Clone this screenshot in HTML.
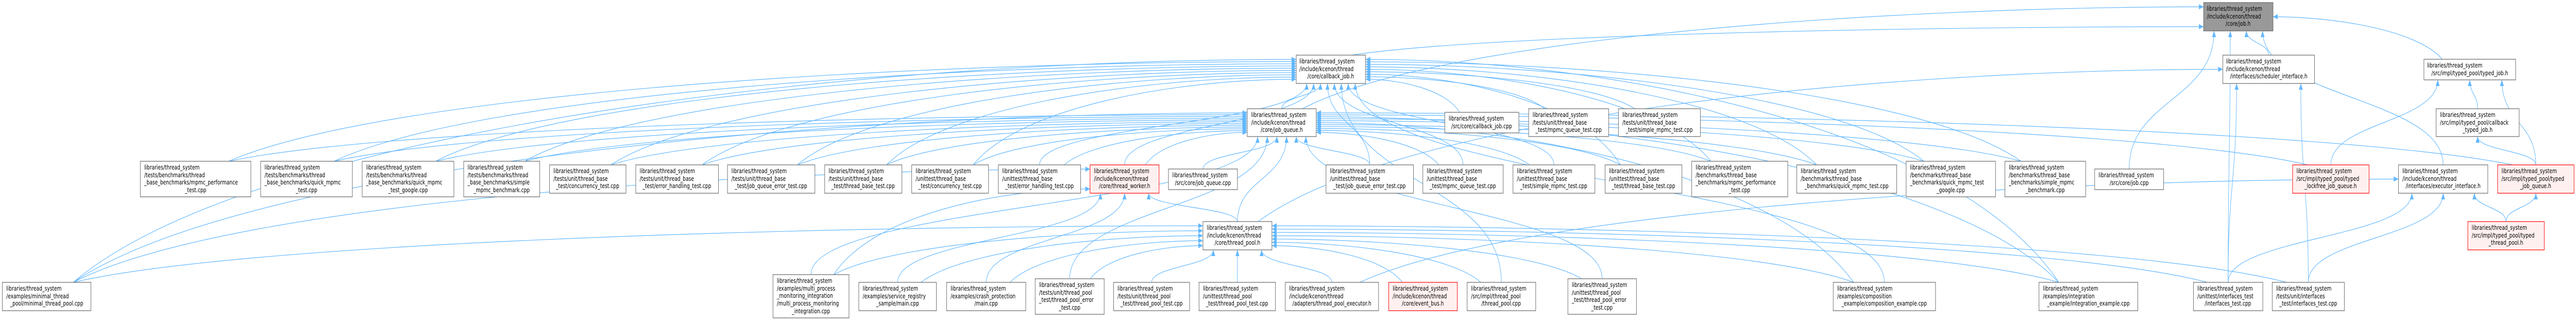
<!DOCTYPE html>
<html><head><meta charset="utf-8"><style>
html,body{margin:0;padding:0;background:#fff;width:100%;height:100%;overflow:hidden;}
svg{display:block;width:100%;height:100%;}
.n{fill:#fff;stroke:#666;stroke-width:1.2;}
.r{fill:#fff0f0;stroke:#ff0000;stroke-width:1.2;}
.g{fill:#999;stroke:#666;stroke-width:1.2;}
text{font-family:"DejaVu Sans","Liberation Sans",sans-serif;font-size:12px;fill:#000;}
.e{fill:none;stroke:#63b8ff;stroke-width:1.2;}
</style></head><body>
<svg id="s" viewBox="0 0 6572 623" preserveAspectRatio="none" xmlns="http://www.w3.org/2000/svg">
<defs><marker id="ah" markerUnits="userSpaceOnUse" markerWidth="12" markerHeight="10" refX="12" refY="5" orient="auto"><path d="M0,0 L12,5 L0,10 z" fill="#63b8ff"/></marker></defs>
<g id="edges"></g>
<g id="nodes">
<rect class="g" x="5622" y="5" width="177" height="55"/><text><tspan x="5630" y="21">libraries/thread_system</tspan><tspan x="5630" y="36">/include/kcenon/thread</tspan><tspan x="5710" y="50" text-anchor="middle">/core/job.h</tspan></text>
<rect class="n" x="3307" y="107" width="177" height="55"/><text><tspan x="3315" y="123">libraries/thread_system</tspan><tspan x="3315" y="138">/include/kcenon/thread</tspan><tspan x="3395" y="152" text-anchor="middle">/core/callback_job.h</tspan></text>
<rect class="n" x="5671" y="107" width="234" height="55"/><text><tspan x="5679" y="123">libraries/thread_system</tspan><tspan x="5679" y="138">/include/kcenon/thread</tspan><tspan x="5788" y="152" text-anchor="middle">/interfaces/scheduler_interface.h</tspan></text>
<rect class="n" x="6184" y="115" width="234" height="40"/><text><tspan x="6192" y="131">libraries/thread_system</tspan><tspan x="6301" y="146" text-anchor="middle">/src/impl/typed_pool/typed_job.h</tspan></text>
<rect class="n" x="3182" y="211" width="176" height="54"/><text><tspan x="3192" y="227">libraries/thread_system</tspan><tspan x="3192" y="242">/include/kcenon/thread</tspan><tspan x="3270" y="256" text-anchor="middle">/core/job_queue.h</tspan></text>
<rect class="n" x="3686" y="218" width="189" height="40"/><text><tspan x="3696" y="234">libraries/thread_system</tspan><tspan x="3780" y="249" text-anchor="middle">/src/core/callback_job.cpp</tspan></text>
<rect class="n" x="3900" y="211" width="204" height="54"/><text><tspan x="3910" y="227">libraries/thread_system</tspan><tspan x="3910" y="242">/tests/unit/thread_base</tspan><tspan x="4002" y="256" text-anchor="middle">_test/mpmc_queue_test.cpp</tspan></text>
<rect class="n" x="4129" y="211" width="209" height="54"/><text><tspan x="4139" y="227">libraries/thread_system</tspan><tspan x="4139" y="242">/tests/unit/thread_base</tspan><tspan x="4233" y="256" text-anchor="middle">_test/simple_mpmc_test.cpp</tspan></text>
<rect class="n" x="6215" y="211" width="212" height="54"/><text><tspan x="6225" y="227">libraries/thread_system</tspan><tspan x="6225" y="242">/src/impl/typed_pool/callback</tspan><tspan x="6321" y="256" text-anchor="middle">_typed_job.h</tspan></text>

<rect class="n" x="358" y="313" width="282" height="69"/><text><tspan x="368" y="329">libraries/thread_system</tspan><tspan x="368" y="344">/tests/benchmarks/thread</tspan><tspan x="368" y="358">_base_benchmarks/mpmc_performance</tspan><tspan x="499" y="373" text-anchor="middle">_test.cpp</tspan></text>
<rect class="n" x="665" y="313" width="234" height="69"/><text><tspan x="675" y="329">libraries/thread_system</tspan><tspan x="675" y="344">/tests/benchmarks/thread</tspan><tspan x="675" y="358">_base_benchmarks/quick_mpmc</tspan><tspan x="782" y="373" text-anchor="middle">_test.cpp</tspan></text>
<rect class="n" x="924" y="313" width="234" height="69"/><text><tspan x="934" y="329">libraries/thread_system</tspan><tspan x="934" y="344">/tests/benchmarks/thread</tspan><tspan x="934" y="358">_base_benchmarks/quick_mpmc</tspan><tspan x="1041" y="373" text-anchor="middle">_test_google.cpp</tspan></text>
<rect class="n" x="1183" y="313" width="194" height="69"/><text><tspan x="1193" y="329">libraries/thread_system</tspan><tspan x="1193" y="344">/tests/benchmarks/thread</tspan><tspan x="1193" y="358">_base_benchmarks/simple</tspan><tspan x="1280" y="373" text-anchor="middle">_mpmc_benchmark.cpp</tspan></text>
<rect class="n" x="1402" y="320" width="195" height="55"/><text><tspan x="1412" y="336">libraries/thread_system</tspan><tspan x="1412" y="351">/tests/unit/thread_base</tspan><tspan x="1499" y="365" text-anchor="middle">_test/concurrency_test.cpp</tspan></text>
<rect class="n" x="1622" y="320" width="211" height="55"/><text><tspan x="1632" y="336">libraries/thread_system</tspan><tspan x="1632" y="351">/tests/unit/thread_base</tspan><tspan x="1727" y="365" text-anchor="middle">_test/error_handling_test.cpp</tspan></text>
<rect class="n" x="1856" y="320" width="223" height="55"/><text><tspan x="1866" y="336">libraries/thread_system</tspan><tspan x="1866" y="351">/tests/unit/thread_base</tspan><tspan x="1967" y="365" text-anchor="middle">_test/job_queue_error_test.cpp</tspan></text>
<rect class="n" x="2104" y="320" width="197" height="55"/><text><tspan x="2114" y="336">libraries/thread_system</tspan><tspan x="2114" y="351">/tests/unit/thread_base</tspan><tspan x="2202" y="365" text-anchor="middle">_test/thread_base_test.cpp</tspan></text>
<rect class="n" x="2326" y="320" width="196" height="55"/><text><tspan x="2336" y="336">libraries/thread_system</tspan><tspan x="2336" y="351">/unittest/thread_base</tspan><tspan x="2424" y="365" text-anchor="middle">_test/concurrency_test.cpp</tspan></text>
<rect class="n" x="2547" y="320" width="210" height="55"/><text><tspan x="2557" y="336">libraries/thread_system</tspan><tspan x="2557" y="351">/unittest/thread_base</tspan><tspan x="2652" y="365" text-anchor="middle">_test/error_handling_test.cpp</tspan></text>
<rect class="r" x="2781" y="320" width="176" height="55"/><text><tspan x="2791" y="336">libraries/thread_system</tspan><tspan x="2791" y="351">/include/kcenon/thread</tspan><tspan x="2869" y="365" text-anchor="middle">/core/thread_worker.h</tspan></text>
<rect class="n" x="2981" y="328" width="176" height="40"/><text><tspan x="2991" y="344">libraries/thread_system</tspan><tspan x="3069" y="359" text-anchor="middle">/src/core/job_queue.cpp</tspan></text>
<rect class="n" x="3383" y="320" width="223" height="55"/><text><tspan x="3393" y="336">libraries/thread_system</tspan><tspan x="3393" y="351">/unittest/thread_base</tspan><tspan x="3494" y="365" text-anchor="middle">_test/job_queue_error_test.cpp</tspan></text>
<rect class="n" x="3630" y="320" width="205" height="55"/><text><tspan x="3640" y="336">libraries/thread_system</tspan><tspan x="3640" y="351">/unittest/thread_base</tspan><tspan x="3732" y="365" text-anchor="middle">_test/mpmc_queue_test.cpp</tspan></text>
<rect class="n" x="3860" y="320" width="209" height="55"/><text><tspan x="3870" y="336">libraries/thread_system</tspan><tspan x="3870" y="351">/unittest/thread_base</tspan><tspan x="3964" y="365" text-anchor="middle">_test/simple_mpmc_test.cpp</tspan></text>
<rect class="n" x="4095" y="320" width="196" height="55"/><text><tspan x="4105" y="336">libraries/thread_system</tspan><tspan x="4105" y="351">/unittest/thread_base</tspan><tspan x="4193" y="365" text-anchor="middle">_test/thread_base_test.cpp</tspan></text>
<rect class="n" x="4316" y="313" width="245" height="69"/><text><tspan x="4326" y="329">libraries/thread_system</tspan><tspan x="4326" y="344">/benchmarks/thread_base</tspan><tspan x="4326" y="358">_benchmarks/mpmc_performance</tspan><tspan x="4438" y="373" text-anchor="middle">_test.cpp</tspan></text>
<rect class="n" x="4584" y="320" width="255" height="55"/><text><tspan x="4594" y="336">libraries/thread_system</tspan><tspan x="4594" y="351">/benchmarks/thread_base</tspan><tspan x="4711" y="365" text-anchor="middle">_benchmarks/quick_mpmc_test.cpp</tspan></text>
<rect class="n" x="4863" y="313" width="228" height="69"/><text><tspan x="4873" y="329">libraries/thread_system</tspan><tspan x="4873" y="344">/benchmarks/thread_base</tspan><tspan x="4873" y="358">_benchmarks/quick_mpmc_test</tspan><tspan x="4977" y="373" text-anchor="middle">_google.cpp</tspan></text>
<rect class="n" x="5115" y="313" width="206" height="69"/><text><tspan x="5125" y="329">libraries/thread_system</tspan><tspan x="5125" y="344">/benchmarks/thread_base</tspan><tspan x="5125" y="358">_benchmarks/simple_mpmc</tspan><tspan x="5218" y="373" text-anchor="middle">_benchmark.cpp</tspan></text>
<rect class="n" x="5344" y="328" width="176" height="40"/><text><tspan x="5354" y="344">libraries/thread_system</tspan><tspan x="5432" y="359" text-anchor="middle">/src/core/job.cpp</tspan></text>
<rect class="r" x="5849" y="320" width="195" height="55"/><text><tspan x="5859" y="336">libraries/thread_system</tspan><tspan x="5859" y="351">/src/impl/typed_pool/typed</tspan><tspan x="5946" y="365" text-anchor="middle">_lockfree_job_queue.h</tspan></text>
<rect class="n" x="6119" y="320" width="228" height="55"/><text><tspan x="6129" y="336">libraries/thread_system</tspan><tspan x="6129" y="351">/include/kcenon/thread</tspan><tspan x="6233" y="365" text-anchor="middle">/interfaces/executor_interface.h</tspan></text>
<rect class="r" x="6372" y="320" width="195" height="55"/><text><tspan x="6382" y="336">libraries/thread_system</tspan><tspan x="6382" y="351">/src/impl/typed_pool/typed</tspan><tspan x="6469" y="365" text-anchor="middle">_job_queue.h</tspan></text>

<rect class="n" x="3069" y="430" width="176" height="55"/><text><tspan x="3079" y="446">libraries/thread_system</tspan><tspan x="3079" y="461">/include/kcenon/thread</tspan><tspan x="3157" y="475" text-anchor="middle">/core/thread_pool.h</tspan></text>
<rect class="r" x="6296" y="430" width="195" height="55"/><text><tspan x="6306" y="446">libraries/thread_system</tspan><tspan x="6306" y="461">/src/impl/typed_pool/typed</tspan><tspan x="6393" y="475" text-anchor="middle">_thread_pool.h</tspan></text>

<rect class="n" x="6" y="548" width="226" height="55"/><text><tspan x="16" y="564">libraries/thread_system</tspan><tspan x="16" y="579">/examples/minimal_thread</tspan><tspan x="119" y="593" text-anchor="middle">_pool/minimal_thread_pool.cpp</tspan></text>
<rect class="n" x="1972" y="533" width="194" height="84"/><text><tspan x="1982" y="549">libraries/thread_system</tspan><tspan x="1982" y="564">/examples/multi_process</tspan><tspan x="1982" y="578">_monitoring_integration</tspan><tspan x="1982" y="593">/multi_process_monitoring</tspan><tspan x="2069" y="608" text-anchor="middle">_integration.cpp</tspan></text>
<rect class="n" x="2191" y="548" width="198" height="55"/><text><tspan x="2201" y="564">libraries/thread_system</tspan><tspan x="2201" y="579">/examples/service_registry</tspan><tspan x="2290" y="593" text-anchor="middle">_sample/main.cpp</tspan></text>
<rect class="n" x="2415" y="548" width="202" height="55"/><text><tspan x="2425" y="564">libraries/thread_system</tspan><tspan x="2425" y="579">/examples/crash_protection</tspan><tspan x="2516" y="593" text-anchor="middle">/main.cpp</tspan></text>
<rect class="n" x="2641" y="541" width="176" height="69"/><text><tspan x="2651" y="557">libraries/thread_system</tspan><tspan x="2651" y="572">/tests/unit/thread_pool</tspan><tspan x="2651" y="586">_test/thread_pool_error</tspan><tspan x="2729" y="601" text-anchor="middle">_test.cpp</tspan></text>
<rect class="n" x="2841" y="548" width="194" height="55"/><text><tspan x="2851" y="564">libraries/thread_system</tspan><tspan x="2851" y="579">/tests/unit/thread_pool</tspan><tspan x="2938" y="593" text-anchor="middle">_test/thread_pool_test.cpp</tspan></text>
<rect class="n" x="3059" y="548" width="195" height="55"/><text><tspan x="3069" y="564">libraries/thread_system</tspan><tspan x="3069" y="579">/unittest/thread_pool</tspan><tspan x="3156" y="593" text-anchor="middle">_test/thread_pool_test.cpp</tspan></text>
<rect class="n" x="3279" y="548" width="238" height="55"/><text><tspan x="3289" y="564">libraries/thread_system</tspan><tspan x="3289" y="579">/include/kcenon/thread</tspan><tspan x="3398" y="593" text-anchor="middle">/adapters/thread_pool_executor.h</tspan></text>
<rect class="r" x="3543" y="548" width="175" height="55"/><text><tspan x="3553" y="564">libraries/thread_system</tspan><tspan x="3553" y="579">/include/kcenon/thread</tspan><tspan x="3630" y="593" text-anchor="middle">/core/event_bus.h</tspan></text>
<rect class="n" x="3743" y="548" width="175" height="55"/><text><tspan x="3753" y="564">libraries/thread_system</tspan><tspan x="3753" y="579">/src/impl/thread_pool</tspan><tspan x="3830" y="593" text-anchor="middle">/thread_pool.cpp</tspan></text>
<rect class="n" x="4000" y="541" width="175" height="69"/><text><tspan x="4010" y="557">libraries/thread_system</tspan><tspan x="4010" y="572">/unittest/thread_pool</tspan><tspan x="4010" y="586">_test/thread_pool_error</tspan><tspan x="4087" y="601" text-anchor="middle">_test.cpp</tspan></text>
<rect class="n" x="4677" y="548" width="261" height="55"/><text><tspan x="4687" y="564">libraries/thread_system</tspan><tspan x="4687" y="579">/examples/composition</tspan><tspan x="4807" y="593" text-anchor="middle">_example/composition_example.cpp</tspan></text>
<rect class="n" x="5202" y="548" width="252" height="55"/><text><tspan x="5212" y="564">libraries/thread_system</tspan><tspan x="5212" y="579">/examples/integration</tspan><tspan x="5328" y="593" text-anchor="middle">_example/integration_example.cpp</tspan></text>
<rect class="n" x="5596" y="548" width="177" height="55"/><text><tspan x="5606" y="564">libraries/thread_system</tspan><tspan x="5606" y="579">/unittest/interfaces_test</tspan><tspan x="5684" y="593" text-anchor="middle">/interfaces_test.cpp</tspan></text>
<rect class="n" x="5797" y="548" width="184" height="55"/><text><tspan x="5807" y="564">libraries/thread_system</tspan><tspan x="5807" y="579">/tests/unit/interfaces</tspan><tspan x="5889" y="593" text-anchor="middle">_test/interfaces_test.cpp</tspan></text>
</g>
</svg>
<script>
var N={A:[5622,5,177,55],B:[3307,107,177,55],C:[5671,107,234,55],D:[6184,115,234,40],E:[3182,211,176,54],F:[3686,218,189,40],G:[3900,211,204,54],H:[4129,211,209,54],I:[6215,211,212,54],
r1:[358,313,282,69],r2:[665,313,234,69],r3:[924,313,234,69],r4:[1183,313,194,69],r5:[1402,320,195,55],r6:[1622,320,211,55],r7:[1856,320,223,55],r8:[2104,320,197,55],r9:[2326,320,196,55],r10:[2547,320,210,55],r11:[2781,320,176,55],r12:[2981,328,176,40],r13:[3383,320,223,55],r14:[3630,320,205,55],r15:[3860,320,209,55],r16:[4095,320,196,55],r17:[4316,313,245,69],r18:[4584,320,255,55],r19:[4863,313,228,69],r20:[5115,313,206,69],r21:[5344,328,176,40],r22:[5849,320,195,55],r23:[6119,320,228,55],r24:[6372,320,195,55],
TP:[3069,430,176,55],TTP:[6296,430,195,55],
b1:[6,548,226,55],b2:[1972,533,194,84],b3:[2191,548,198,55],b4:[2415,548,202,55],b5:[2641,541,176,69],b6:[2841,548,194,55],b7:[3059,548,195,55],b8:[3279,548,238,55],b9:[3543,548,175,55],b10:[3743,548,175,55],b11:[4000,541,175,69],b12:[4677,548,261,55],b13:[5202,548,252,55],b14:[5596,548,177,55],b15:[5797,548,184,55]};
var E=[];
function a(c,p){E.push([c,p]);}
["B","E","r21","C","D","r23","b14"].forEach(function(c){a(c,"A");});
["E","F","G","H","r13","r14","r15","r16","r17","r18","r19","r20","r1","r2","r3","r4","r5","r6","r7","r8","r9","r10","b10","b12","b13","b1","r11"].forEach(function(c){a(c,"B");});
["r1","r2","r3","r4","r5","r6","r7","r8","r9","r10","r11","r12","r13","r14","r15","r16","r17","r18","r19","r20","TP","r22","r24","b11","b12","b13","b5","b1","b2"].forEach(function(c){a(c,"E");});
["TP","b1","b2","b3","b4"].forEach(function(c){a(c,"r11");});
["b1","b2","b3","b4","b5","b6","b7","b8","b9","b10","b11","b12","b13","b14","b15"].forEach(function(c){a(c,"TP");});
["b14","b15","TP"].forEach(function(c){a(c,"C");});
["b14","b15","TTP","b8"].forEach(function(c){a(c,"r23");});
["r22","I","r24"].forEach(function(c){a(c,"D");});
a("r24","I");a("TTP","r24");
var G2={};
E.forEach(function(e){
 var c=N[e[0]],p=N[e[1]];
 var ccx=c[0]+c[2]/2,pcx=p[0]+p[2]/2,pb=p[1]+p[3];
 var dy=c[1]-pb,dx=pcx-ccx;
 var side=null;
 if(Math.abs(dx)>4*dy+150){side=dx>0?"L":"R";}
 e.side=side;
 var key=e[1]+(side||"B");
 (G2[key]=G2[key]||[]).push(e);
 e.sx=side?(side=="L"?c[0]+c[2]*0.8:c[0]+c[2]*0.2):ccx;
 e.sy=c[1];
});
for(var k in G2){
 var arr=G2[k];arr.sort(function(x,y){return x.sx-y.sx;});
 var n=arr.length;
 arr.forEach(function(e,i){
  var p=N[e[1]];var t=n>1?(i/(n-1)-0.5):0;
  if(!e.side){e.ex=p[0]+p[2]/2+t*p[2]*0.7;e.ey=p[1]+p[3];}
  else{ e.ex=e.side=="L"?p[0]:p[0]+p[2];
   var tt=e.side=="L"?t:-t; e.ey=p[1]+p[3]/2+tt*p[3]*0.7; }
 });
}
var g=document.getElementById("edges"),h="";
E.forEach(function(e){
 var sx=e.sx,sy=e.sy,ex=e.ex,ey=e.ey,d;
 if(!e.side){var k=(sy-ey)*0.5;d="M"+sx+","+sy+" C"+sx+","+(sy-k)+" "+ex+","+(ey+k)+" "+ex+","+ey;}
 else{var ddx=ex-sx;d="M"+sx+","+sy+" C"+(sx+ddx*0.15)+","+(sy-(sy-ey)*0.7)+" "+(ex-ddx*0.35)+","+ey+" "+ex+","+ey;}
 h+='<path class="e" d="'+d+'" marker-end="url(#ah)"/>';
});
g.innerHTML=h;
</script>
</body></html>
